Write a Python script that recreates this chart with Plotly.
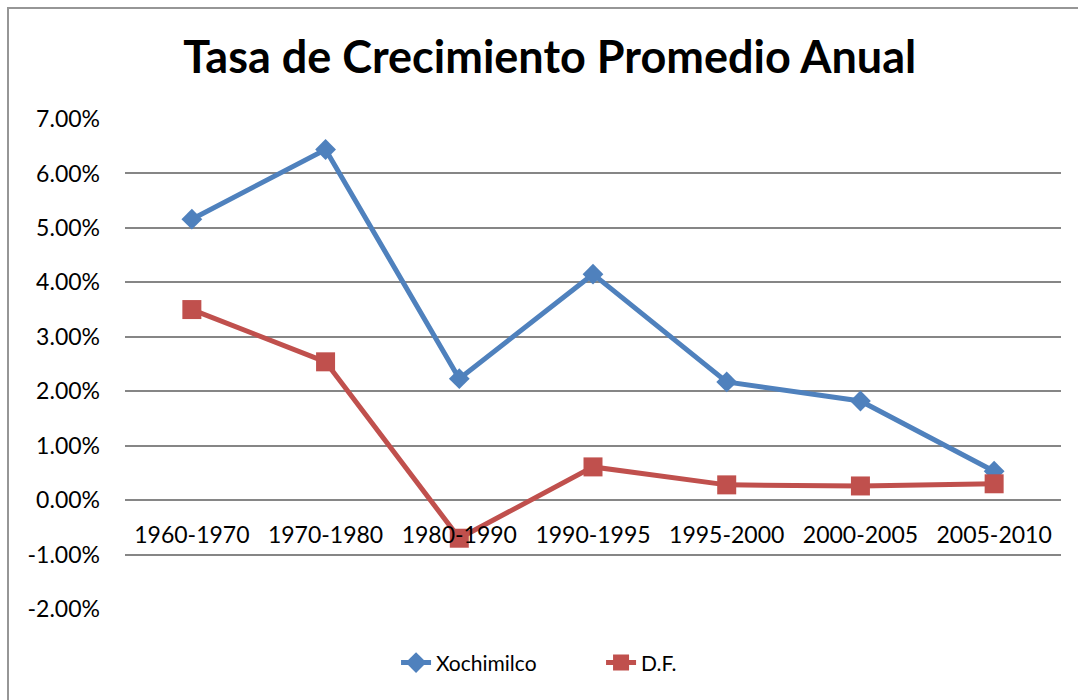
import plotly.graph_objects as go

periodos = ["1960-1970", "1970-1980", "1980-1990", "1990-1995",
            "1995-2000", "2000-2005", "2005-2010"]
xochimilco = [0.0516, 0.0644, 0.0223, 0.0415, 0.0217, 0.0182, 0.0053]
df = [0.0350, 0.0254, -0.0070, 0.0061, 0.0028, 0.0026, 0.0030]
y_ticks = [-0.02, -0.01, 0.0, 0.01, 0.02, 0.03, 0.04, 0.05, 0.06, 0.07]
y_labels = ["-2.00%", "-1.00%", "0.00%", "1.00%", "2.00%", "3.00%",
            "4.00%", "5.00%", "6.00%", "7.00%"]

FONT = "Lato"

fig = go.Figure()
fig.add_trace(go.Scatter(
    x=periodos, y=xochimilco, name="Xochimilco",
    mode="lines+markers",
    line=dict(color="#4F81BD", width=5),
    marker=dict(symbol="diamond", size=16, color="#4F81BD"),
))
fig.add_trace(go.Scatter(
    x=periodos, y=df, name="D.F.",
    mode="lines+markers",
    line=dict(color="#C0504D", width=5),
    marker=dict(symbol="square", size=19, color="#C0504D"),
))

fig.update_layout(
    width=1078, height=700,
    margin=dict(l=125, r=17, t=119, b=91),
    paper_bgcolor="white", plot_bgcolor="white",
    font=dict(family=FONT, size=23, color="black"),
    title=dict(text="<b>Tasa de Crecimiento Promedio Anual</b>",
               x=0.51, xanchor="center", y=0.9186, yanchor="middle",
               font=dict(family=FONT, size=45, color="black")),
    showlegend=True,
    legend=dict(orientation="h", x=0.5086, xanchor="center",
                y=-0.11, yanchor="middle", font=dict(size=21),
                entrywidth=160),
    xaxis=dict(type="category", range=[-0.5, 6.5],
               anchor="free", position=2 / 9,
               showgrid=False, showline=False, ticks="",
               ticklabelstandoff=19, tickfont=dict(size=23)),
    yaxis=dict(range=[-0.02, 0.07], tickvals=y_ticks, ticktext=y_labels,
               showgrid=True, gridcolor="#868686", gridwidth=2,
               zeroline=False, showline=False, ticks="",
               ticklabelstandoff=24, tickfont=dict(size=23)),
    # chart frame: only the left and top edges are inside the picture
    shapes=[dict(type="path", xref="paper", yref="paper",
                 path="M -0.125,-0.5 L -0.125,1.2265 L 1.2,1.2265",
                 line=dict(color="#969696", width=2))],
)

fig.write_html("out.html",
               config={"displayModeBar": False},
               post_script="document.body.style.margin='0';"
                           "document.body.style.overflow='hidden';")
